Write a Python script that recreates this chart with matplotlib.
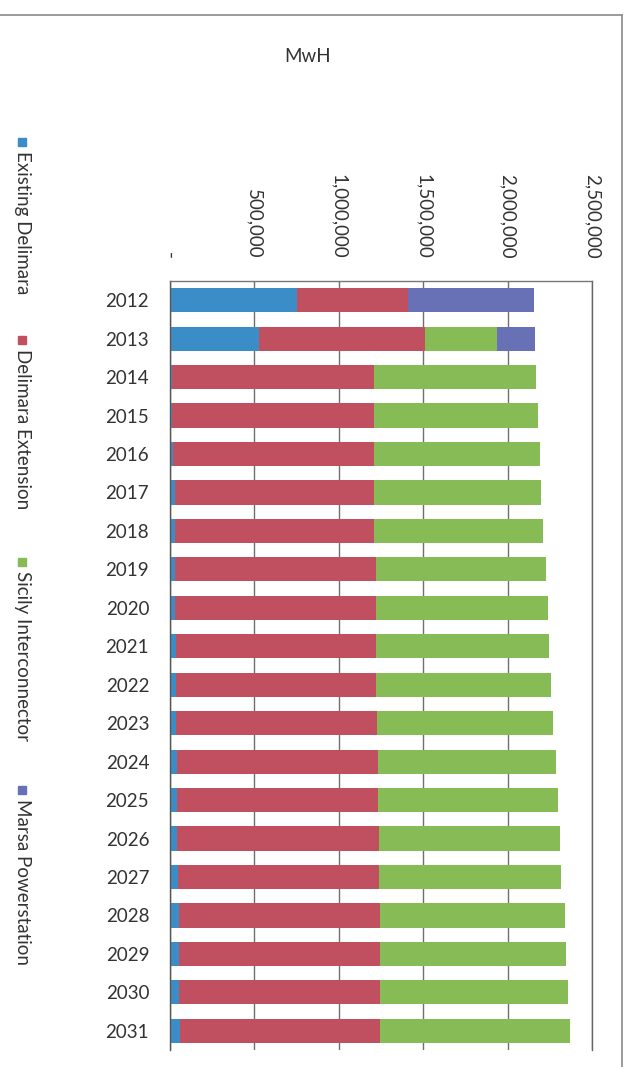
import matplotlib
matplotlib.use("Agg")
import matplotlib.pyplot as plt
from matplotlib.ticker import FuncFormatter, MultipleLocator
from matplotlib.patches import Rectangle
from matplotlib.lines import Line2D

plt.rcParams['font.family'] = ['Lato', 'DejaVu Sans']

years = [str(y) for y in range(2012, 2032)]
series_names = ["Existing Delimara", "Delimara Extension", "Sicily Interconnector", "Marsa Powerstation"]
colors = ["#3a8dc6", "#c04f60", "#86bb55", "#6870b6"]

existing_delimara = [755000, 529000, 12000, 14000, 16000, 28000, 30000, 31000, 32000, 33000,
                     34000, 38000, 40000, 41000, 42000, 50000, 51000, 52000, 56000, 62000]
delimara_extension = [654000, 983000, 1197000, 1195000, 1194000, 1183000, 1181000, 1190000, 1189000, 1188000,
                      1188000, 1187000, 1195000, 1194000, 1194000, 1189000, 1195000, 1194000, 1189000, 1184000]
sicily_interconnector = [0, 425000, 961000, 971000, 979000, 988000, 998000, 1008000, 1018000, 1027000,
                         1038000, 1045000, 1053000, 1063000, 1072000, 1079000, 1092000, 1102000, 1112000, 1121000]
marsa_powerstation = [745000, 227000, 0, 0, 0, 0, 0, 0, 0, 0,
                      0, 0, 0, 0, 0, 0, 0, 0, 0, 0]

series = [existing_delimara, delimara_extension, sicily_interconnector, marsa_powerstation]

W, H = 631, 1067
fig = plt.figure(figsize=(W / 100, H / 100), dpi=100)
ax = fig.add_axes([170 / W, 1 - 1050 / H, (592 - 170) / W, (1050 - 281) / H])

pos = list(range(len(years)))
left = [0] * len(years)
for vals, col, name in zip(series, colors, series_names):
    ax.barh(pos, vals, left=left, height=0.63, color=col, label=name, zorder=2, linewidth=0)
    left = [l + v for l, v in zip(left, vals)]

ax.set_xlim(0, 2500000)
ax.set_ylim(len(years) - 0.5, -0.5)
ax.set_yticks(pos)
ax.set_yticklabels(years)
ax.xaxis.set_major_locator(MultipleLocator(500000))
ax.xaxis.set_major_formatter(FuncFormatter(lambda v, p: "-" if v == 0 else f"{v:,.0f}"))
ax.xaxis.tick_top()
ax.tick_params(axis='x', length=0, pad=16, labelsize=13.5, colors="#333333", labelrotation=270)
ax.tick_params(axis='y', length=0, pad=15, labelsize=13.5, colors="#333333")
for lab in ax.get_xticklabels():
    lab.set_va('bottom')
    lab.set_ha('center')

ax.grid(axis='x', color="#6f6f6f", linewidth=1.0, zorder=1)
ax.set_axisbelow(True)
ax.spines['bottom'].set_visible(False)
ax.spines['left'].set_color("#555555")
ax.spines['top'].set_color("#777777")
ax.spines['right'].set_color("#666666")
for s in ['left', 'top', 'right']:
    ax.spines[s].set_linewidth(1.0)

# axis unit label
fig.text(308 / W, 1 - 57 / H, "MwH", ha='center', va='center', fontsize=13.5, color="#333333")

# vertical legend along the left edge
legend_y = [142, 340, 562, 790]
for name, col, yy in zip(series_names, colors, legend_y):
    fig.patches.append(Rectangle(((22 - 4) / W, 1 - (yy + 4) / H), 8 / W, 8 / H,
                                 transform=fig.transFigure, color=col, figure=fig))
    fig.text(22 / W, 1 - (yy + 9) / H, name, rotation=270, ha='center', va='top',
             fontsize=13.5, color="#333333", rotation_mode='default')

# outer chart border
fig.lines.append(Line2D([0, 622 / W], [1 - 15 / H, 1 - 15 / H], transform=fig.transFigure,
                        color="#8a8a8a", linewidth=1.2))
fig.lines.append(Line2D([622 / W, 622 / W], [0, 1 - 15 / H], transform=fig.transFigure,
                        color="#8a8a8a", linewidth=1.2))

fig.savefig("out.png", dpi=100)
